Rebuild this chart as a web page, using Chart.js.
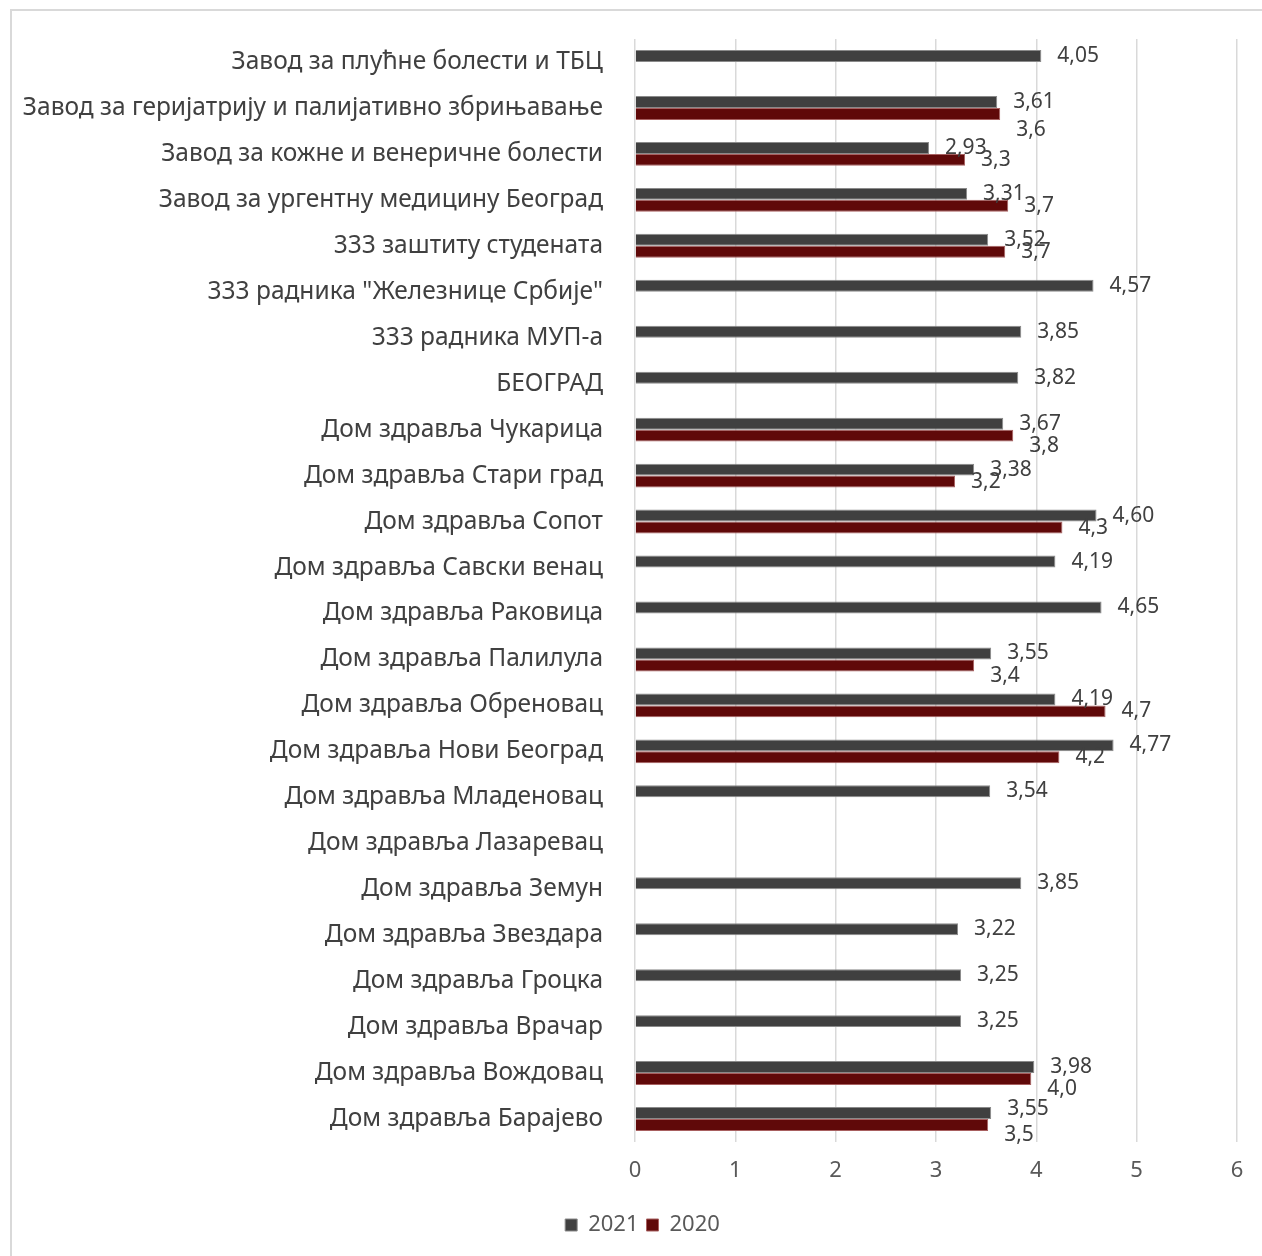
<!DOCTYPE html>
<html>
<head>
<meta charset="utf-8">
<script src="https://cdn.jsdelivr.net/npm/chart.js@4/dist/chart.umd.min.js"></script>
<style>
  html, body { margin: 0; padding: 0; background: #fff; overflow: hidden; }
  #frame { position: absolute; left: 10px; top: 9px; width: 1262px; height: 1262px; border: 2px solid #d9d9d9; }
  #wrap { position: absolute; left: 0; top: 0; width: 1262px; height: 1256px; }
</style>
</head>
<body>
<div id="frame"></div>
<div id="wrap"><canvas id="barChart"></canvas></div>
<script>
// Categories (top to bottom)
const institutions = [
  'Завод за плућне болести и ТБЦ',
  'Завод за геријатрију и палијативно збрињавање',
  'Завод за кожне и венеричне болести',
  'Завод за ургентну медицину Београд',
  '333 заштиту студената',
  '333 радника "Железнице Србије"',
  '333 радника МУП-а',
  'БЕОГРАД',
  'Дом здравља Чукарица',
  'Дом здравља Стари град',
  'Дом здравља Сопот',
  'Дом здравља Савски венац',
  'Дом здравља Раковица',
  'Дом здравља Палилула',
  'Дом здравља Обреновац',
  'Дом здравља Нови Београд',
  'Дом здравља Младеновац',
  'Дом здравља Лазаревац',
  'Дом здравља Земун',
  'Дом здравља Звездара',
  'Дом здравља Гроцка',
  'Дом здравља Врачар',
  'Дом здравља Вождовац',
  'Дом здравља Барајево'
];

const scores2021 = [4.05, 3.61, 2.93, 3.31, 3.52, 4.57, 3.85, 3.82, 3.67, 3.38, 4.60, 4.19,
  4.65, 3.55, 4.19, 4.77, 3.54, null, 3.85, 3.22, 3.25, 3.25, 3.98, 3.55];
const scores2020 = [null, 3.64, 3.29, 3.72, 3.69, null, null, null, 3.77, 3.19, 4.26, null,
  null, 3.38, 4.69, 4.23, null, null, null, null, null, null, 3.95, 3.52];

const xTicks = [0, 1, 2, 3, 4, 5, 6];

const FONT = "'Noto Sans', sans-serif";

// some labels were moved by hand in the original chart
const labelNudge = { '1:1': 16, '1:8': 10, '1:13': 11, '1:22': 10, '1:23': 10, '0:23': -4 };

const valueLabels = {
  id: 'valueLabels',
  afterDatasetsDraw(chart) {
    const ctx = chart.ctx;
    ctx.save();
    ctx.font = '21px ' + FONT;
    ctx.fillStyle = '#404040';
    ctx.textAlign = 'left';
    ctx.textBaseline = 'middle';
    chart.data.datasets.forEach((ds, di) => {
      const meta = chart.getDatasetMeta(di);
      meta.data.forEach((bar, i) => {
        const v = ds.data[i];
        if (v === null || v === undefined) return;
        const txt = v.toFixed(di === 0 ? 2 : 1).replace('.', ',');
        const dy = labelNudge[di + ':' + i] || 0;
        ctx.fillText(txt, bar.x + 16, bar.y + dy);
      });
    });
    ctx.restore();
  }
};

// legend in the original sits a bit right of the canvas centre
const legendShift = {
  id: 'legendShift',
  afterLayout(chart) {
    const lg = chart.legend;
    if (!lg) return;
    lg.left += 24;
    lg.right += 24;
  }
};

const ctx = document.getElementById('barChart').getContext('2d');
const barChart = new Chart(ctx, {
  type: 'bar',
  data: {
    labels: institutions,
    datasets: [
      {
        label: '2021',
        data: scores2021,
        backgroundColor: '#404040',
        borderColor: '#8a8a8a',
        borderWidth: 1,
        barPercentage: 1,
        categoryPercentage: 0.52
      },
      {
        label: '2020',
        data: scores2020,
        backgroundColor: '#600909',
        borderColor: '#a86060',
        borderWidth: 1,
        barPercentage: 1,
        categoryPercentage: 0.52
      }
    ]
  },
  options: {
    indexAxis: 'y',
    responsive: true,
    maintainAspectRatio: false,
    animation: false,
    layout: { padding: { top: 39, right: 25, bottom: 10, left: 0 } },
    scales: {
      x: {
        min: 0,
        max: 6,
        afterBuildTicks(scale) {
          scale.ticks = xTicks.map(v => ({ value: v }));
        },
        afterFit(scale) { scale.height = 64; },
        grid: { color: '#d9d9d9', lineWidth: 1.5, drawTicks: false },
        border: { display: false },
        ticks: { color: '#595959', font: { family: FONT, size: 22 }, padding: 16 }
      },
      y: {
        afterFit(scale) { scale.width = 635; },
        grid: { display: false },
        border: { display: false },
        ticks: { color: '#404040', font: { family: FONT, size: 24.5 }, padding: 24, autoSkip: false }
      }
    },
    plugins: {
      legend: {
        position: 'bottom',
        labels: {
          color: '#595959',
          font: { family: FONT, size: 22 },
          boxWidth: 12,
          boxHeight: 12,
          padding: 8
        }
      },
      tooltip: { enabled: false }
    }
  },
  plugins: [valueLabels, legendShift]
});
</script>
</body>
</html>
